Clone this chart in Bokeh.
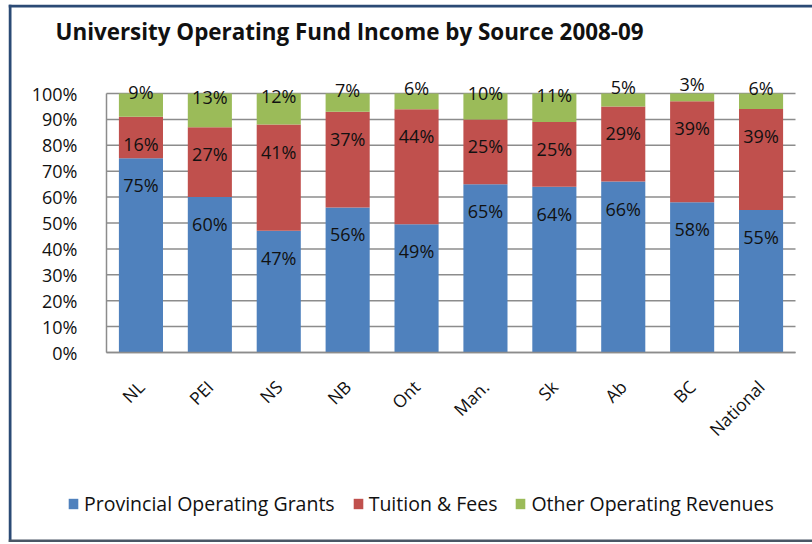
from math import pi
from bokeh.plotting import figure
from bokeh.models import (ColumnDataSource, Range1d, FixedTicker, PrintfTickFormatter,
                          Legend, LegendItem, Label, Span)
from bokeh.core.properties import value
from bokeh.embed import file_html
from bokeh.resources import INLINE

# ---- data ----
title_text = "University Operating Fund Income by Source 2008-09"
categories = ["NL", "PEI", "NS", "NB", "Ont", "Man.", "Sk", "Ab", "BC", "National"]
grants = [75, 60, 47, 56, 49, 65, 64, 66, 58, 55]
tuition = [16, 27, 41, 37, 44, 25, 25, 29, 39, 39]
other = [9, 13, 12, 7, 6, 10, 11, 5, 3, 6]
series_names = ["Provincial Operating Grants", "Tuition & Fees", "Other Operating Revenues"]
y_ticks = [0, 10, 20, 30, 40, 50, 60, 70, 80, 90, 100]

# ---- style / geometry ----
colors = ["#4F81BD", "#C0504D", "#9BBB59"]
FONT = "Open Sans"
TXT = "#111111"
GRID = "#8C8C8C"
W, H = 812, 538
ORIGIN_X, ORIGIN_Y = 98, 348      # canvas pixel of the plot-area's bottom-left corner
PX_CAT, PX_PCT = 68.9, 2.59       # pixels per category / per percent

n = len(categories)
xs = list(range(1, n + 1))

# 100% stacked: normalise each category
tot = [g + t + o for g, t, o in zip(grants, tuition, other)]
g_n = [g / s * 100 for g, s in zip(grants, tot)]
t_n = [t / s * 100 for t, s in zip(tuition, tot)]
o_n = [o / s * 100 for o, s in zip(other, tot)]
top_t = [a + b for a, b in zip(g_n, t_n)]
mid_o = [a + c / 2 for a, c in zip(top_t, o_n)]

src = ColumnDataSource(dict(
    x=xs, g=g_n, t=t_n, o=o_n, top_g=g_n, top_t=top_t, mid_o=mid_o,
    lab_g=[f"{v}%" for v in grants],
    lab_t=[f"{v}%" for v in tuition],
    lab_o=[f"{v}%" for v in other],
))

x0 = 0.5
p = figure(x_range=Range1d(x0 - ORIGIN_X / PX_CAT, x0 + (W - ORIGIN_X) / PX_CAT),
           y_range=Range1d(-(H - ORIGIN_Y) / PX_PCT, ORIGIN_Y / PX_PCT),
           width=W, height=H, output_backend="svg", toolbar_location=None,
           min_border=0, min_border_left=0, min_border_right=0,
           min_border_top=0, min_border_bottom=0)
p.title = None
p.styles = {"margin-left": "8px", "margin-top": "4px"}
p.outline_line_color = None
p.background_fill_color = "white"
p.border_fill_color = "white"
p.grid.visible = False

# chart-area border (left, top, bottom)
p.add_layout(Span(location=1.5, location_units="screen", dimension="height",
                  line_color="#2B4A75", line_width=3))
p.add_layout(Span(location=H - 1.5, location_units="screen", dimension="width",
                  line_color="#2B4A75", line_width=3))
p.add_layout(Span(location=1.5, location_units="screen", dimension="width",
                  line_color="#4A5766", line_width=3))

# horizontal gridlines over the plot area only
p.segment(x0=[x0] * len(y_ticks), x1=[n + x0] * len(y_ticks), y0=y_ticks, y1=y_ticks,
          line_color=GRID, line_width=1.5)

rs = p.vbar_stack(["g", "t", "o"], x="x", width=0.64, source=src,
                  color=colors, line_color=None)

# data labels
common = dict(source=src, text_align="center", text_baseline="middle",
              text_font=value(FONT), text_font_size="18px", text_color=TXT)
p.text(x="x", y="top_g", text="lab_g", y_offset=27, **common)
p.text(x="x", y="top_t", text="lab_t", y_offset=27, **common)
p.text(x="x", y="mid_o", text="lab_o", y_offset=-13, **common)

# y axis
ya = p.yaxis[0]
ya.fixed_location = x0
ya.bounds = (y_ticks[0], y_ticks[-1])
ya.ticker = FixedTicker(ticks=y_ticks)
ya.formatter = PrintfTickFormatter(format="%d%%")
ya.major_tick_line_color = None
ya.minor_tick_line_color = None
ya.axis_line_color = GRID
ya.axis_line_width = 1.5
ya.major_label_standoff = 23
ya.major_label_text_font = FONT
ya.major_label_text_font_size = "18px"
ya.major_label_text_color = TXT

# x axis
xa = p.xaxis[0]
xa.fixed_location = 0
xa.bounds = (x0, n + x0)
xa.ticker = FixedTicker(ticks=xs)
xa.major_label_overrides = {x: c for x, c in zip(xs, categories)}
xa.major_tick_line_color = None
xa.minor_tick_line_color = None
xa.axis_line_color = GRID
xa.axis_line_width = 1.5
xa.major_label_orientation = pi / 4
xa.major_label_standoff = 25
xa.major_label_text_font = FONT
xa.major_label_text_font_size = "17.5px"
xa.major_label_text_color = TXT

# title
p.add_layout(Label(x=47, y=H - 27, x_units="screen", y_units="screen", text=title_text,
                   text_font=FONT, text_font_size="22.4px", text_font_style="bold",
                   text_baseline="middle", text_color=TXT))

# legend
legend = Legend(items=[LegendItem(label=s, renderers=[r]) for s, r in zip(series_names, rs)],
                orientation="horizontal", location=(59, H - 513),
                glyph_width=12, glyph_height=13, label_standoff=5, spacing=17,
                padding=0, margin=0, border_line_color=None, background_fill_alpha=0,
                label_text_font=FONT, label_text_font_size="19.5px",
                label_text_color=TXT)
p.add_layout(legend)

html = file_html(p, INLINE)
html = html.replace("<head>", "<head><style>html, body { overflow: hidden; }</style>", 1)
open("out.html", "w").write(html)
